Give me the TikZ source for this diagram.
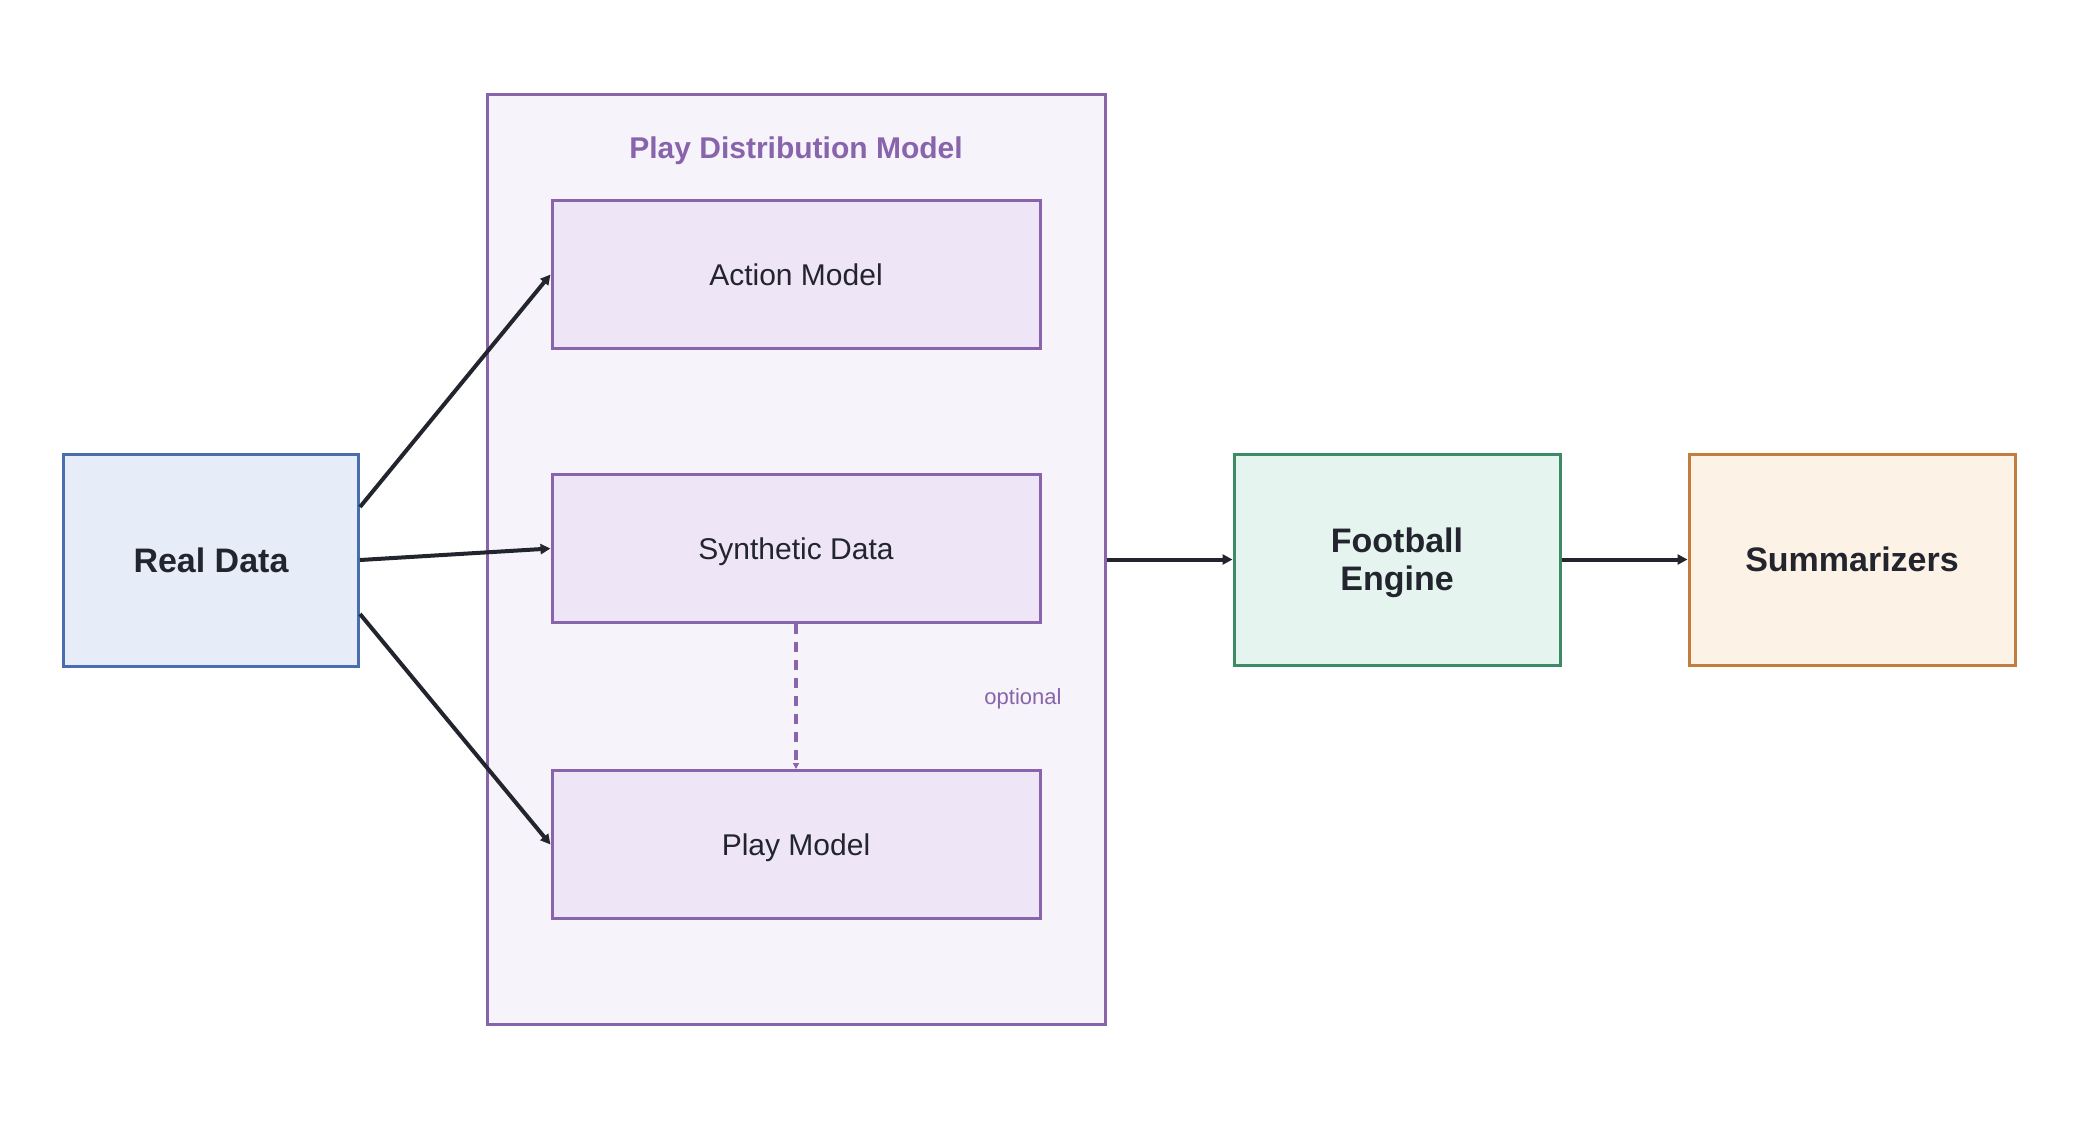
\documentclass[tikz,border=0pt]{standalone}
\usepackage{fontspec}
\setmainfont{Liberation Sans}
\usetikzlibrary{arrows.meta,calc}
\definecolor{rdfill}{HTML}{E6EDF8}
\definecolor{rdline}{HTML}{4A6DAE}
\definecolor{clfill}{HTML}{F6F3FB}
\definecolor{clline}{HTML}{8864AC}
\definecolor{inner}{HTML}{EEE5F7}
\definecolor{fefill}{HTML}{E5F4EE}
\definecolor{feline}{HTML}{3E8A66}
\definecolor{smfill}{HTML}{FDF2E6}
\definecolor{smline}{HTML}{C27C3E}
\definecolor{ink}{HTML}{22252E}
\tikzset{
  box/.style={draw, line width=1.5pt, inner sep=0pt, align=center, text=ink},
  bigbox/.style={box, text depth=0pt, font=\fontsize{17}{19}\selectfont\bfseries},
  innerbox/.style={box, draw=clline, fill=inner, minimum width=244pt, minimum height=74pt, text depth=0pt, font=\fontsize{15}{18}\selectfont},
  flow/.style={draw=ink, line width=2pt, -{Triangle[length=5pt,width=5pt]}},
}
\begin{document}
\begin{tikzpicture}[x=0.5pt,y=-0.5pt]
\useasboundingbox[fill=white] (0,0) rectangle (2080,1120);
\node[box, draw=clline, fill=clfill, minimum width=309pt, minimum height=465pt] (cl) at (796,559) {};
\node[text=clline, font=\fontsize{15}{18}\selectfont\bfseries] (title) at (796,151) {Play Distribution Model};
\node[innerbox] (am) at (796,274.5) {Action Model};
\node[innerbox] (sd) at (796,548.5) {Synthetic Data};
\node[innerbox] (pm) at (796,844.5) {Play Model};
\node[bigbox, draw=rdline, fill=rdfill, minimum width=147.5pt, minimum height=106pt] (rd) at (211,560) {Real Data};
\node[bigbox, draw=feline, fill=fefill, minimum width=163pt, minimum height=105.5pt] (fe) at (1397,559.5) {Football\\Engine};
\node[bigbox, draw=smline, fill=smfill, minimum width=163pt, minimum height=105.5pt] (sm) at (1852,559.5) {Summarizers};
\node[text=clline, font=\fontsize{11}{13}\selectfont] (opt) at (1023,699) {optional};
\draw[flow] ([yshift=26.5pt]rd.east) -- (am.west);
\draw[flow] (rd.east) -- (sd.west);
\draw[flow] ([yshift=-27pt]rd.east) -- (pm.west);
\draw[draw=clline, line width=2pt, dash pattern=on 5pt off 4pt, -{Triangle[length=3pt,width=3pt]}] (sd.south) -- (pm.north);
\draw[flow] (cl.east |- fe.west) -- (fe.west);
\draw[flow] (fe.east) -- (sm.west);
\end{tikzpicture}
\end{document}
